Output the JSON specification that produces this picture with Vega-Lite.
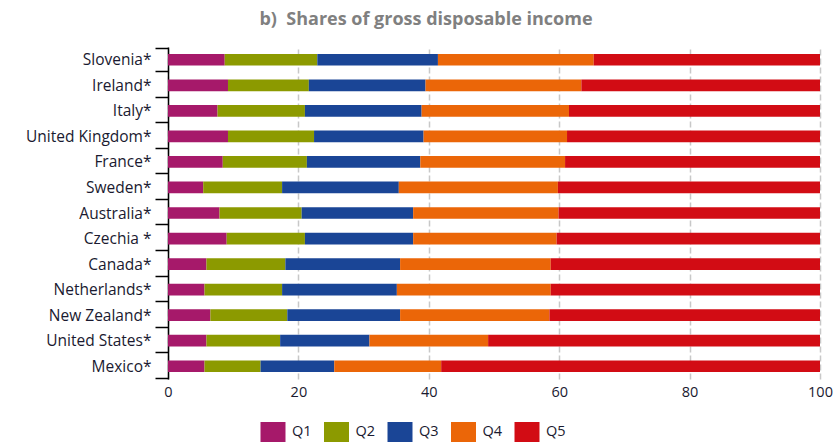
{
  "$schema": "https://vega.github.io/schema/vega-lite/v6.json",
  "width": 652,
  "height": 332,
  "autosize": {"type": "none"},
  "padding": {"left": 168, "top": 47, "right": 15, "bottom": 64},
  "background": "white",
  "title": {
    "text": "b)\u00a0\u00a0Shares of gross disposable income",
    "font": "Open Sans",
    "fontSize": 18,
    "fontWeight": "bold",
    "color": "#808080",
    "anchor": "middle",
    "frame": "group",
    "dx": -68,
    "offset": 11
  },
  "data": {
    "values": [
      {"country": "Slovenia*", "q": "Q1", "v": 8.7}, {"country": "Slovenia*", "q": "Q2", "v": 14.2}, {"country": "Slovenia*", "q": "Q3", "v": 18.5}, {"country": "Slovenia*", "q": "Q4", "v": 23.9}, {"country": "Slovenia*", "q": "Q5", "v": 34.7},
      {"country": "Ireland*", "q": "Q1", "v": 9.2}, {"country": "Ireland*", "q": "Q2", "v": 12.4}, {"country": "Ireland*", "q": "Q3", "v": 17.9}, {"country": "Ireland*", "q": "Q4", "v": 23.9}, {"country": "Ireland*", "q": "Q5", "v": 36.6},
      {"country": "Italy*", "q": "Q1", "v": 7.6}, {"country": "Italy*", "q": "Q2", "v": 13.4}, {"country": "Italy*", "q": "Q3", "v": 17.9}, {"country": "Italy*", "q": "Q4", "v": 22.6}, {"country": "Italy*", "q": "Q5", "v": 38.5},
      {"country": "United Kingdom*", "q": "Q1", "v": 9.2}, {"country": "United Kingdom*", "q": "Q2", "v": 13.2}, {"country": "United Kingdom*", "q": "Q3", "v": 16.8}, {"country": "United Kingdom*", "q": "Q4", "v": 22.0}, {"country": "United Kingdom*", "q": "Q5", "v": 38.8},
      {"country": "France*", "q": "Q1", "v": 8.4}, {"country": "France*", "q": "Q2", "v": 12.9}, {"country": "France*", "q": "Q3", "v": 17.4}, {"country": "France*", "q": "Q4", "v": 22.2}, {"country": "France*", "q": "Q5", "v": 39.1},
      {"country": "Sweden*", "q": "Q1", "v": 5.4}, {"country": "Sweden*", "q": "Q2", "v": 12.1}, {"country": "Sweden*", "q": "Q3", "v": 17.9}, {"country": "Sweden*", "q": "Q4", "v": 24.4}, {"country": "Sweden*", "q": "Q5", "v": 40.2},
      {"country": "Australia*", "q": "Q1", "v": 7.9}, {"country": "Australia*", "q": "Q2", "v": 12.6}, {"country": "Australia*", "q": "Q3", "v": 17.1}, {"country": "Australia*", "q": "Q4", "v": 22.3}, {"country": "Australia*", "q": "Q5", "v": 40.1},
      {"country": "Czechia *", "q": "Q1", "v": 9.0}, {"country": "Czechia *", "q": "Q2", "v": 12.0}, {"country": "Czechia *", "q": "Q3", "v": 16.6}, {"country": "Czechia *", "q": "Q4", "v": 22.0}, {"country": "Czechia *", "q": "Q5", "v": 40.4},
      {"country": "Canada*", "q": "Q1", "v": 5.9}, {"country": "Canada*", "q": "Q2", "v": 12.1}, {"country": "Canada*", "q": "Q3", "v": 17.6}, {"country": "Canada*", "q": "Q4", "v": 23.1}, {"country": "Canada*", "q": "Q5", "v": 41.3},
      {"country": "Netherlands*", "q": "Q1", "v": 5.6}, {"country": "Netherlands*", "q": "Q2", "v": 11.9}, {"country": "Netherlands*", "q": "Q3", "v": 17.6}, {"country": "Netherlands*", "q": "Q4", "v": 23.6}, {"country": "Netherlands*", "q": "Q5", "v": 41.3},
      {"country": "New Zealand*", "q": "Q1", "v": 6.5}, {"country": "New Zealand*", "q": "Q2", "v": 11.8}, {"country": "New Zealand*", "q": "Q3", "v": 17.3}, {"country": "New Zealand*", "q": "Q4", "v": 22.9}, {"country": "New Zealand*", "q": "Q5", "v": 41.5},
      {"country": "United States*", "q": "Q1", "v": 5.9}, {"country": "United States*", "q": "Q2", "v": 11.3}, {"country": "United States*", "q": "Q3", "v": 13.7}, {"country": "United States*", "q": "Q4", "v": 18.2}, {"country": "United States*", "q": "Q5", "v": 50.9},
      {"country": "Mexico*", "q": "Q1", "v": 5.6}, {"country": "Mexico*", "q": "Q2", "v": 8.6}, {"country": "Mexico*", "q": "Q3", "v": 11.3}, {"country": "Mexico*", "q": "Q4", "v": 16.4}, {"country": "Mexico*", "q": "Q5", "v": 58.1}
    ]
  },
  "mark": {"type": "bar", "size": 11.7},
  "encoding": {
    "y": {
      "field": "country",
      "type": "nominal",
      "sort": null,
      "title": null,
      "axis": {
        "domainColor": "#000000",
        "domainWidth": 1.5,
        "tickColor": "#000000",
        "tickWidth": 1.5,
        "tickSize": 13,
        "tickBand": "extent",
        "labelFont": "Open Sans",
        "labelFontSize": 15.5,
        "labelColor": "#1a1a30",
        "labelPadding": 4,
        "grid": false
      }
    },
    "x": {
      "field": "v",
      "type": "quantitative",
      "stack": "zero",
      "scale": {"domain": [0, 100], "nice": false},
      "title": null,
      "axis": {
        "values": [0, 20, 40, 60, 80, 100],
        "domain": false,
        "ticks": false,
        "grid": true,
        "gridColor": "#c8c8c8",
        "gridWidth": 1.5,
        "gridDash": [6, 3],
        "labelFont": "Open Sans",
        "labelFontSize": 14.5,
        "labelColor": "#1a1a30",
        "labelPadding": 6,
        "labelFlush": false
      }
    },
    "color": {
      "field": "q",
      "type": "nominal",
      "scale": {
        "domain": ["Q1", "Q2", "Q3", "Q4", "Q5"],
        "range": ["#A6196A", "#8C9A00", "#1A4596", "#EB6608", "#D20C14"]
      },
      "legend": {
        "title": null,
        "orient": "none",
        "direction": "horizontal",
        "legendX": 95,
        "legendY": 375,
        "symbolType": "M-1.25,-1L1.25,-1L1.25,1L-1.25,1Z",
        "symbolSize": 400,
        "symbolStrokeWidth": 0,
        "symbolOpacity": 1,
        "labelFont": "Open Sans",
        "labelFontSize": 14.5,
        "labelColor": "#1a1a30",
        "labelOffset": 9,
        "columnPadding": 11.5
      }
    },
    "order": {"field": "q", "type": "ordinal"}
  },
  "config": {"view": {"stroke": null}}
}
